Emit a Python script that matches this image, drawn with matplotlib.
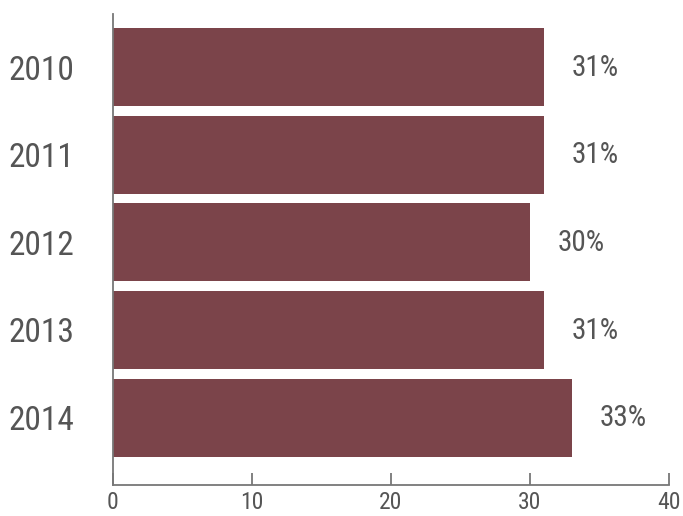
import matplotlib
matplotlib.use("Agg")
import matplotlib.pyplot as plt

plt.rcParams['font.family'] = ['Roboto Condensed', 'DejaVu Sans']

years = ['2010', '2011', '2012', '2013', '2014']
shares = [31, 31, 30, 31, 33]
xticks = [0, 10, 20, 30, 40]

bar_color = '#7b444a'
text_color = '#555555'
axis_color = '#777777'

fig = plt.figure(figsize=(6.83, 5.16), dpi=100)
ax = fig.add_axes([113/683, 31/516, 556/683, 471/516])

pos = list(range(len(years)))
ax.barh(pos, shares, height=0.89, color=bar_color)

# value labels to the right of each bar
for p, v in zip(pos, shares):
    ax.annotate(f'{v}%', xy=(v, p), xytext=(20, -0.5), textcoords='offset points',
                ha='left', va='center', fontsize=21, color=text_color)

ax.set_xlim(0, 40)
ax.set_ylim(4.77, -0.606)
ax.set_xticks(xticks)
ax.set_yticks(pos)
ax.set_yticklabels(years)

ax.tick_params(axis='x', direction='in', length=9, width=1.3, color=axis_color,
               labelsize=17, labelcolor=text_color, pad=4)
ax.tick_params(axis='y', length=0, labelsize=24, labelcolor=text_color, pad=28)

for s in ['top', 'right']:
    ax.spines[s].set_visible(False)
for s in ['left', 'bottom']:
    ax.spines[s].set_color(axis_color)
    ax.spines[s].set_linewidth(1.3)

fig.savefig('out.png', dpi=100)
